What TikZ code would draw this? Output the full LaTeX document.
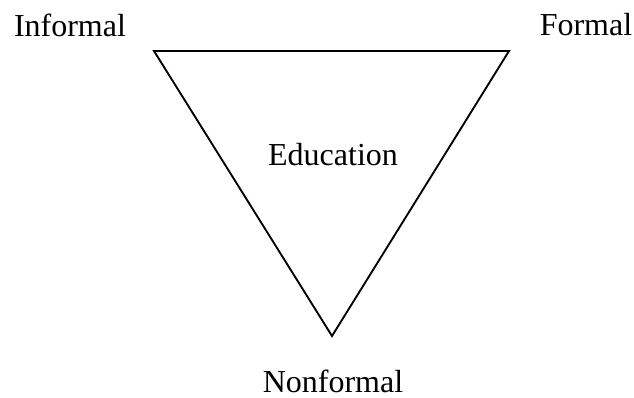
\documentclass[tikz,border=0pt]{standalone}
\usepackage{fontspec}
\setmainfont{Liberation Serif}
\usetikzlibrary{positioning}

\begin{document}
\begin{tikzpicture}[
  x=0.75pt, y=-0.75pt,
  label/.style={font=\fontsize{24}{28}\selectfont, inner sep=0pt, anchor=base},
  side/.style={line width=1.4pt, line join=miter}
]
\useasboundingbox (0,0) rectangle (634,397);
\coordinate (tl) at (154,51);
\coordinate (tr) at (509,51);
\coordinate (bt) at (332,336);
\draw[side] (tl) -- (tr) -- (bt) -- cycle;
\node[label] (informal) at (70,36) {Informal};
\node[label] (formal) at (586,35) {Formal};
\node[label] (education) at (333,165) {Education};
\node[label] (nonformal) at (333,392) {Nonformal};
\end{tikzpicture}
\end{document}
